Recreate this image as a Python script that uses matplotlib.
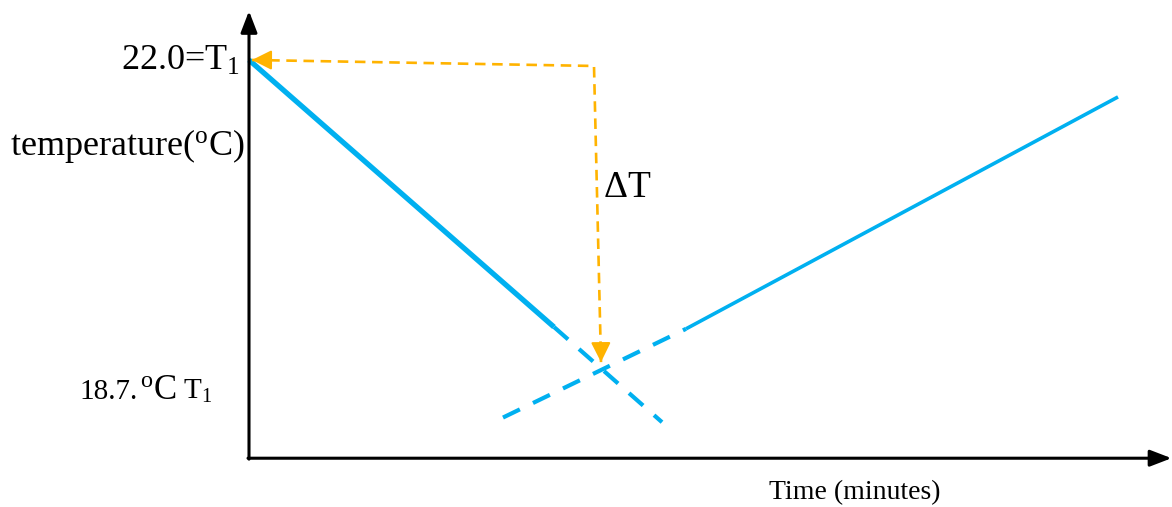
import matplotlib
matplotlib.use("Agg")
import matplotlib.pyplot as plt

plt.rcParams["font.family"] = ["Liberation Serif", "DejaVu Serif"]
plt.rcParams["mathtext.fontset"] = "custom"
plt.rcParams["mathtext.rm"] = "Liberation Serif"
plt.rcParams["mathtext.it"] = "Liberation Serif:italic"

# Temperatures (deg C) and times (minutes)
T_START = 22.0
T_MIN = 18.7
T_AXIS = 17.69          # temperature at the time axis
T_AXIS_TOP = 22.53
TIME_AXIS_END = 18.45

# cooling branch (solid part, extrapolated dashed part)
cool_solid_t = [0.0, 6.1]
cool_solid_T = [22.0, 19.11]
cool_dash_t = [6.1, 8.26]
cool_dash_T = [19.11, 18.08]

# warming branch (extrapolated dashed part, solid part)
warm_dash_t = [5.08, 8.74]
warm_dash_T = [18.13, 19.09]
warm_solid_t = [8.74, 17.38]
warm_solid_T = [19.09, 21.6]

# delta-T guide
guide_t = [0.06, 6.9, 7.04]
guide_T = [22.0, 21.935, 18.73]

BLUE = "#00B0F0"
ORANGE = "#FFB300"

fig = plt.figure(figsize=(11.72, 5.07), dpi=100)
ax = fig.add_axes([0, 0, 1, 1])
ax.set_xlim(-4.98, 18.46)
ax.set_ylim(17.162, 22.649)
ax.axis("off")

# axes with arrow heads
axis_arrow = dict(arrowstyle="-|>,head_length=0.65,head_width=0.25",
                  lw=2.2, color="black", shrinkA=0, shrinkB=0,
                  mutation_scale=20)
ax.annotate("", xy=(0, T_AXIS_TOP), xytext=(0, T_AXIS - 0.01),
            arrowprops=axis_arrow)
ax.annotate("", xy=(TIME_AXIS_END, T_AXIS), xytext=(-0.02, T_AXIS),
            arrowprops=axis_arrow)

# temperature branches
ax.plot(cool_solid_t, cool_solid_T, color=BLUE, lw=3.8, solid_capstyle="butt")
ax.plot(cool_dash_t, cool_dash_T, color=BLUE, lw=3.0, dashes=(4.5, 3.5))
ax.plot(warm_dash_t, warm_dash_T, color=BLUE, lw=3.0, dashes=(4.5, 3.5))
ax.plot(warm_solid_t, warm_solid_T, color=BLUE, lw=2.6, solid_capstyle="butt")

# delta-T guide with arrow heads at both ends
ax.plot(guide_t, guide_T, color=ORANGE, lw=1.9, dashes=(4, 2.5))
head = dict(arrowstyle="-|>,head_length=0.6,head_width=0.3", lw=1.5,
            color=ORANGE, shrinkA=0, shrinkB=0, mutation_scale=20)
ax.annotate("", xy=(guide_t[0], guide_T[0]), xytext=(guide_t[0] + 0.3, guide_T[0] - 0.0005),
            arrowprops=head)
ax.annotate("", xy=(guide_t[2], guide_T[2]), xytext=(guide_t[2] - 0.003, guide_T[2] + 0.2),
            arrowprops=head)

# labels
ax.text(-0.17, 21.89, r"22.0=T$_\mathregular{1}$", fontsize=26, ha="right", va="baseline")
ax.text(-4.78, 20.97, r"temperature($^\mathregular{o}$C)", fontsize=26, ha="left", va="baseline")
ax.text(7.08, 20.52, r"$\Delta$T", fontsize=27, ha="left", va="baseline")
ax.text(-3.40, 18.33, "18.7.", fontsize=21, ha="left", va="baseline")
ax.text(-2.18, 18.33, r"$^\mathregular{o}$C", fontsize=25, ha="left", va="baseline")
ax.text(-1.32, 18.33, r"T$_\mathregular{1}$", fontsize=21, ha="left", va="baseline")
ax.text(10.4, 17.245, "Time (minutes)", fontsize=20, ha="left", va="baseline")

fig.savefig("out.png", dpi=100)
